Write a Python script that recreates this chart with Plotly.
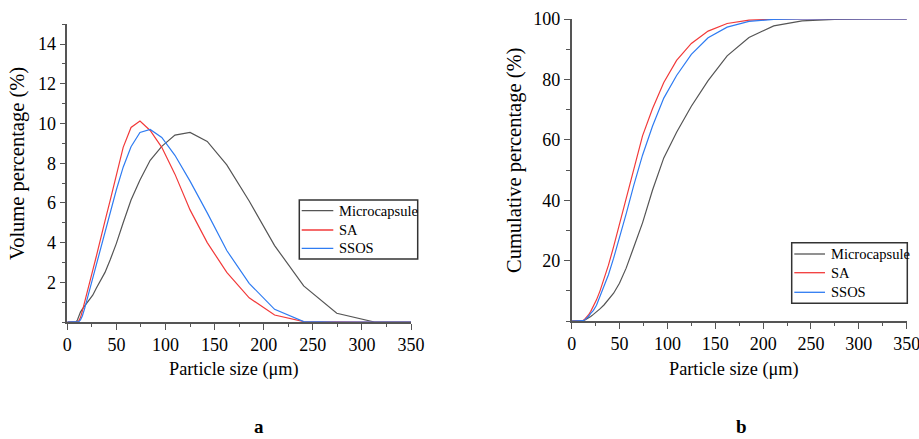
import plotly.graph_objects as go

# ---------------- data ----------------
sizes = [0, 7.9, 9.1, 10.3, 11.8, 13.4, 15.3, 17.5, 19.9, 22.7, 25.9, 29.5, 33.7, 38.4,
         43.8, 49.9, 56.9, 64.9, 74.0, 84.4, 96.2, 109.6, 125.0, 142.5, 162.4, 185.2,
         211.1, 240.7, 274.4, 312.8, 356.6]

series_names = ["Microcapsule", "SA", "SSOS"]

vol_micro = [0, 0, 0.02, 0.1, 0.3, 0.5, 0.65, 0.8, 0.95, 1.15, 1.35, 1.7, 2.05, 2.5, 3.15,
             3.95, 5.0, 6.15, 7.15, 8.15, 8.85, 9.42, 9.55, 9.1, 7.92, 6.1, 3.85, 1.82,
             0.44, 0, 0]
vol_sa = [0, 0, 0, 0.01, 0.06, 0.22, 0.55, 0.95, 1.45, 2.0, 2.6, 3.3, 4.2, 5.1, 6.15,
          7.45, 8.8, 9.8, 10.13, 9.65, 8.8, 7.45, 5.65, 4.0, 2.5, 1.22, 0.35, 0.02, 0, 0, 0]
vol_ssos = [0, 0, 0, 0, 0.02, 0.1, 0.3, 0.65, 1.1, 1.65, 2.25, 2.95, 3.75, 4.6, 5.6,
            6.65, 7.8, 8.83, 9.55, 9.7, 9.3, 8.4, 7.1, 5.5, 3.6, 1.95, 0.64, 0.02, 0, 0, 0]

cum_micro = [0, 0, 0.01, 0.05, 0.1, 0.3, 0.6, 1.0, 1.5, 2.2, 3.0, 4.0, 5.3, 7.0, 9.2,
             12.5, 17.5, 24.5, 32.5, 43.3, 54.0, 62.5, 71.1, 79.6, 87.8, 93.9, 97.7,
             99.4, 99.9, 100, 100]
cum_sa = [0, 0, 0.02, 0.05, 0.15, 0.5, 1.1, 2.0, 3.2, 4.8, 7.0, 9.9, 13.9, 18.5, 24.6,
          32.0, 41.0, 50.8, 61.3, 70.3, 79.0, 86.3, 91.9, 96.0, 98.5, 99.6, 99.95,
          100, 100, 100, 100]
cum_ssos = [0, 0, 0.01, 0.03, 0.1, 0.3, 0.75, 1.5, 2.5, 3.5, 5.2, 8.0, 11.2, 15.3, 20.8,
            27.5, 35.5, 45.0, 54.9, 64.5, 73.8, 81.3, 88.3, 93.8, 97.3, 99.2, 99.9,
            100, 100, 100, 100]

x_ticks = [0, 50, 100, 150, 200, 250, 300, 350]
y1_ticks = [2, 4, 6, 8, 10, 12, 14]
y2_ticks = [20, 40, 60, 80, 100]

colors = ["#555555", "#f23a3a", "#2f7cf2"]
FONT = "Liberation Serif, Times New Roman, serif"
W, H = 919, 439

# ---------------- figure ----------------
fig = go.Figure()

for name, ys, col in zip(series_names, [vol_micro, vol_sa, vol_ssos], colors):
    fig.add_trace(go.Scatter(x=sizes, y=ys, mode="lines", name=name,
                             line=dict(color=col, width=1.2),
                             xaxis="x", yaxis="y", showlegend=False))
for name, ys, col in zip(series_names, [cum_micro, cum_sa, cum_ssos], colors):
    fig.add_trace(go.Scatter(x=sizes, y=ys, mode="lines", name=name,
                             line=dict(color=col, width=1.2),
                             xaxis="x2", yaxis="y2", showlegend=False))

tick_font = dict(family=FONT, size=18, color="black")
minor_common = dict(ticks="outside", ticklen=3.5, tickwidth=1.2, tickcolor="#555555")


def axis(**kw):
    d = dict(showline=True, linecolor="#555555", linewidth=1.6, mirror=False,
             showgrid=False, zeroline=False, automargin=False,
             ticks="outside", ticklen=6, tickwidth=1.3, tickcolor="#555555",
             tickfont=tick_font, tickmode="array", ticklabeloverflow="allow")
    d.update(kw)
    return d


fig.update_layout(
    width=W, height=H,
    margin=dict(l=0, r=0, t=0, b=0, pad=0, autoexpand=False),
    paper_bgcolor="white", plot_bgcolor="white",
    font=dict(family=FONT, color="black", size=18),
    showlegend=False,
    xaxis=axis(domain=[67.3 / W, 411 / W], anchor="y", range=[0, 350],
               tickvals=x_ticks,
               minor=dict(tickmode="linear", tick0=0, dtick=25, **minor_common)),
    yaxis=axis(domain=[(H - 322) / H, (H - 24.3) / H], anchor="x", range=[0, 15],
               tickvals=y1_ticks,
               minor=dict(tickmode="linear", tick0=0, dtick=1, **minor_common)),
    xaxis2=axis(domain=[571.7 / W, 906.7 / W], anchor="y2", range=[0, 350],
                tickvals=x_ticks,
                minor=dict(tickmode="linear", tick0=0, dtick=25, **minor_common)),
    yaxis2=axis(domain=[(H - 321) / H, (H - 19) / H], anchor="x2", range=[0, 100],
                tickvals=y2_ticks,
                minor=dict(tickmode="linear", tick0=0, dtick=10, **minor_common)),
)

annotations = [
    dict(text="Volume percentage (%)", x=18 / W, y=(H - 164) / H, textangle=-90,
         font=dict(family=FONT, size=20.5, color="black")),
    dict(text="Cumulative percentage (%)", x=515 / W, y=(H - 161) / H, textangle=-90,
         font=dict(family=FONT, size=20.5, color="black")),
    dict(text="Particle size (μm)", x=234 / W, y=(H - 369) / H,
         font=dict(family=FONT, size=18.3, color="black")),
    dict(text="Particle size (μm)", x=734 / W, y=(H - 369) / H,
         font=dict(family=FONT, size=18.3, color="black")),
    dict(text="<b>a</b>", x=259 / W, y=(H - 426) / H, borderpad=0,
         font=dict(family=FONT, size=19, color="black")),
    dict(text="<b>b</b>", x=741 / W, y=(H - 426) / H, borderpad=0,
         font=dict(family=FONT, size=19, color="black")),
]
for a in annotations:
    a.update(xanchor="center", yanchor="middle")

shapes = []

# legend boxes (pixel layout of the reference), built from the series names/colours
legend_boxes = [
    dict(box=(299.3, 200, 417.7, 259), line_x=(301.7, 333.3), text_x=337.3,
         rows=(210.7, 230, 248.3)),
    dict(box=(791.7, 242.7, 907.3, 303.3), line_x=(794.3, 825.0), text_x=829.0,
         rows=(254.0, 272.7, 292.3)),
]
for lb in legend_boxes:
    x0, y0, x1, y1 = lb["box"]
    shapes.append(dict(type="rect", xref="paper", yref="paper",
                       x0=x0 / W, x1=x1 / W, y0=(H - y1) / H, y1=(H - y0) / H,
                       line=dict(color="#333333", width=1.5), fillcolor="white",
                       layer="above"))
    for name, col, ry in zip(series_names, colors, lb["rows"]):
        shapes.append(dict(type="line", xref="paper", yref="paper",
                           x0=lb["line_x"][0] / W, x1=lb["line_x"][1] / W,
                           y0=(H - ry) / H, y1=(H - ry) / H,
                           line=dict(color=col, width=1.3), layer="above"))
        annotations.append(dict(text=name, x=lb["text_x"] / W, y=(H - ry) / H,
                                xanchor="left", yanchor="middle",
                                font=dict(family=FONT, size=14.5, color="black")))

for a in annotations:
    a.update(xref="paper", yref="paper", showarrow=False)
fig.update_layout(annotations=annotations, shapes=shapes)

fig.write_html(
    "out.html",
    config={"displayModeBar": False},
    post_script="document.body.style.margin='0';document.body.style.padding='0';"
                "document.body.style.overflow='hidden';",
)
